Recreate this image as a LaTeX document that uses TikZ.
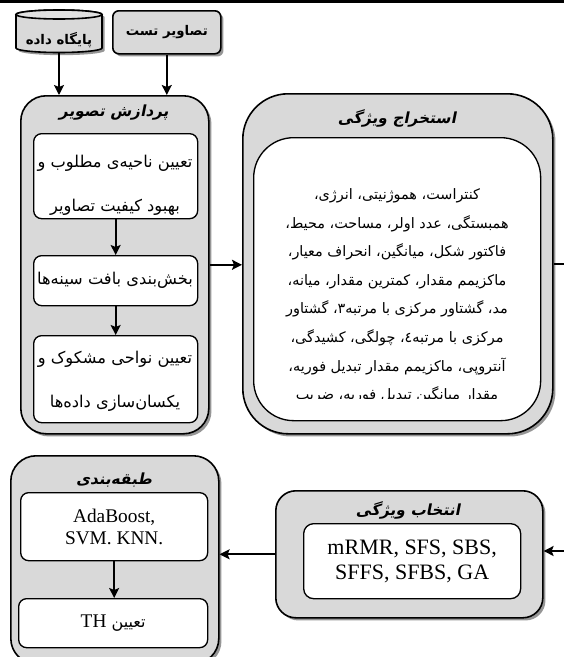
\documentclass[tikz,border=0pt]{standalone}
\usepackage{fontspec}
\setmainfont{Liberation Serif}
\newfontfamily\farsi[Script=Arabic]{DejaVu Sans}
\newfontfamily\farsititle[Script=Arabic, FakeSlant=0.2]{DejaVu Sans Bold}
\TeXXeTstate=1
\usetikzlibrary{arrows.meta,shadows}

\newcommand{\fa}[1]{\beginR #1\endR}

\definecolor{panelgray}{RGB}{217,217,217}
\definecolor{shadegray}{RGB}{150,150,150}

\tikzset{
    outerbox/.style={draw, line width=1.2pt, fill=panelgray, rounded corners=#1,
        drop shadow={shadow xshift=2pt, shadow yshift=-2pt, fill=shadegray, opacity=1}},
    outerbox/.default=19pt,
    innerbox/.style={draw, line width=1pt, fill=white, rounded corners=6pt,
        align=center, inner sep=0pt},
    flow/.style={line width=1.3pt, -{Stealth[length=7.5pt, width=7.5pt, inset=1.5pt]}},
    boxtitle/.style={font=\farsititle\fontsize{11.5}{13}\selectfont},
    inputtext/.style={font=\farsi\bfseries\fontsize{10}{12}\selectfont},
    fatext/.style={align=center, font=\farsi\fontsize{12.2}{33}\selectfont},
    featext/.style={align=center, font=\farsi\fontsize{10.8}{21.4}\selectfont},
    entext/.style={font=\fontsize{14.5}{16.5}\selectfont},
    bigtext/.style={font=\fontsize{16.5}{18.5}\selectfont},
}

\begin{document}
\begin{tikzpicture}[x=0.75pt, y=-0.75pt]
    \useasboundingbox (0,0) rectangle (564,657);
    \fill (0,0) rectangle (564,3);

    \node[minimum width=64.5pt, minimum height=32pt, inner sep=0pt] (db) at (59,31.3) {};
    \draw[fill=panelgray, line width=1.2pt,
        drop shadow={shadow xshift=2pt, shadow yshift=-2pt, fill=shadegray, opacity=1}]
        (16,14.5) -- (16,48) arc[start angle=180, end angle=360, x radius=32.25pt, y radius=3.375pt]
        -- (102,14.5) arc[start angle=0, end angle=180, x radius=32.25pt, y radius=3.375pt] -- cycle;
    \draw[fill=panelgray!80, line width=1.2pt] (59,14.5) ellipse [x radius=32.25pt, y radius=3.375pt];
    \node[inputtext] (dbt) at (59,40) {\fa{پایگاه داده}};

    \node[outerbox=4.5pt, inputtext, minimum width=81pt, minimum height=32.25pt, anchor=north west] (ts) at (112,10) {\fa{تصاویر تست}};

    \node[outerbox, minimum width=141pt, minimum height=253.5pt, anchor=north west] (ip) at (20,95) {};
    \node[boxtitle] (ipt) at (114,113) {\fa{پردازش تصویر}};
    \node[innerbox, minimum width=123pt, minimum height=63.75pt, anchor=north west] (p1) at (33,133) {};
    \node[fatext] (p1t) at (115,185) {\fa{تعیین ناحیه‌ی مطلوب و}\\\fa{بهبود کیفیت تصاویر}};
    \node[innerbox, minimum width=123pt, minimum height=37.5pt, anchor=north west] (p2) at (33,255) {};
    \node[fatext] (p2t) at (115,280) {\fa{بخش‌بندی بافت سینه‌ها}};
    \node[innerbox, minimum width=123pt, minimum height=65.25pt, anchor=north west] (p3) at (33,335) {};
    \node[fatext] (p3t) at (115,381) {\fa{تعیین نواحی مشکوک و}\\\fa{یکسان‌سازی داده‌ها}};

    \node[outerbox=34pt, minimum width=232.5pt, minimum height=255pt, anchor=north west] (fe) at (242,93) {};
    \node[boxtitle] (fet) at (397,118) {\fa{استخراج ویژگی}};
    \node[innerbox, rounded corners=30pt, minimum width=215.25pt, minimum height=212.25pt, anchor=north west] (fei) at (253,137) {};
    \begin{scope}
        \clip (253,137) rectangle (540,398);
        \node[featext] (feit) at (397,296) {\fa{کنتراست، هموژنیتی، انرژی،}\\
            \fa{همبستگی، عدد اولر، مساحت، محیط،}\\
            \fa{فاکتور شکل، میانگین، انحراف معیار،}\\
            \fa{ماکزیمم مقدار، کمترین مقدار، میانه،}\\
            \fa{مد، گشتاور مرکزی با مرتبه۳، گشتاور}\\
            \fa{مرکزی با مرتبه٤، چولگی، کشیدگی،}\\
            \fa{آنتروپی، ماکزیمم مقدار تبدیل فوریه،}\\
            \fa{مقدار میانگین تبدیل فوریه، ضریب}};
    \end{scope}

    \node[outerbox=15pt, minimum width=200.25pt, minimum height=95.25pt, anchor=north west] (fs) at (275,490) {};
    \node[boxtitle] (fst) at (408,510) {\fa{انتخاب ویژگی}};
    \node[innerbox, bigtext, rounded corners=7.5pt, minimum width=162.75pt, minimum height=56.25pt, anchor=north west] (fsi) at (303,523) {mRMR, SFS, SBS,\\SFFS, SFBS, GA};

    \node[outerbox, minimum width=156pt, minimum height=156pt, anchor=north west] (cl) at (10,455) {};
    \node[boxtitle] (clt) at (114,480) {\fa{طبقه‌بندی}};
    \node[innerbox, entext, minimum width=140.25pt, minimum height=51pt, anchor=north west] (c1) at (20,492) {AdaBoost,\\SVM. KNN.};
    \node[innerbox, minimum width=141.75pt, minimum height=36.75pt, anchor=north west] (c2) at (18,598)
        {\farsi\fontsize{12}{14}\selectfont\beginR تعیین \beginL{\rmfamily\fontsize{14.5}{17}\selectfont TH}\endL\endR};

    \coordinate (feout) at (575,260);
    \coordinate (fsin) at (575,551);
    \draw[flow] (db.south) -- (db.south |- ip.north);
    \draw[flow] (ts.south) -- (ts.south |- ip.north);
    \draw[flow] (p1.south) -- (p2.north);
    \draw[flow] (p2.south) -- (p3.north);
    \draw[flow] (ip.east) -- (ip.east -| fe.west);
    \draw[line width=1.3pt] (fe.east) -- (fe.east -| feout);
    \draw[flow] (fsin) -- (fsin -| fs.east);
    \draw[flow] (fs.west) -- (fs.west -| cl.east);
    \draw[flow] (c1.south) -- (c1.south |- c2.north);
\end{tikzpicture}
\end{document}
